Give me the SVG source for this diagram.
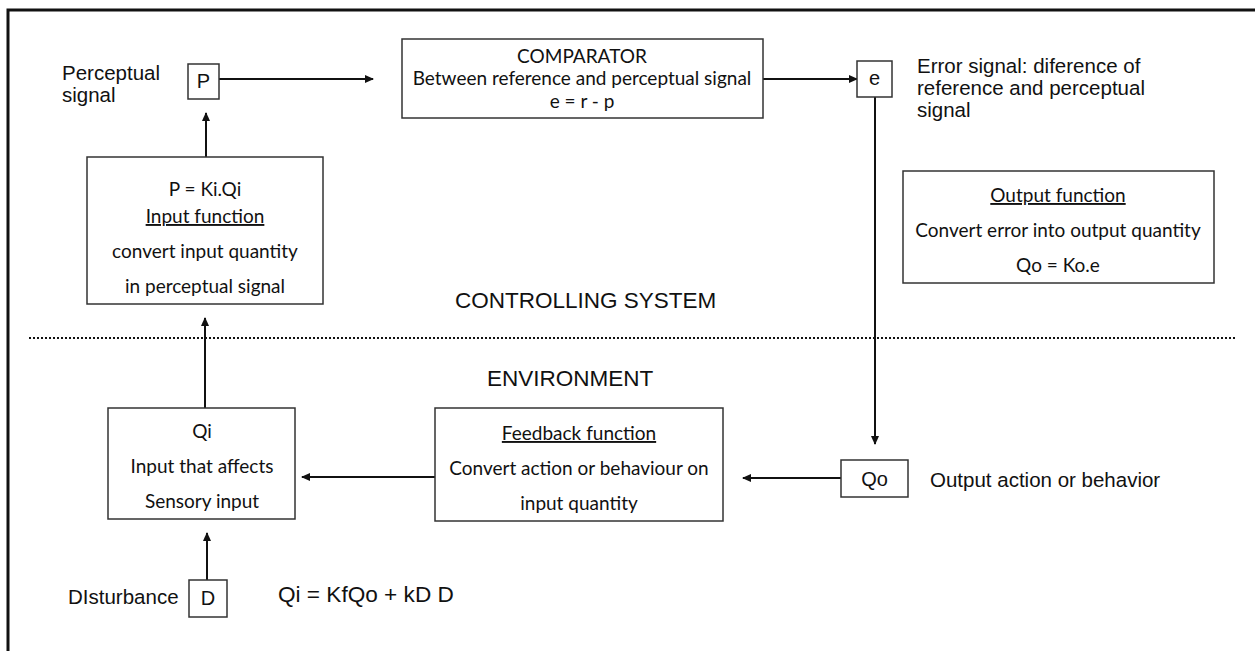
<svg xmlns="http://www.w3.org/2000/svg" width="1255" height="651" viewBox="0 0 1255 651">
<style>
.box{fill:#fff;stroke:#333;stroke-width:1.5}
.c{font-family:Lato,"Open Sans",sans-serif;font-size:19px;fill:#111;text-anchor:middle}
.a{font-family:"Liberation Sans",Arial,sans-serif;font-size:20.5px;fill:#111}
.am{font-family:"Liberation Sans",Arial,sans-serif;font-size:20px;fill:#111;text-anchor:middle}
.u{text-decoration:underline}
.ln{stroke:#111;stroke-width:2;fill:none}
</style>
<defs>
<marker id="ah" markerWidth="9" markerHeight="8" refX="8" refY="4" orient="auto" markerUnits="userSpaceOnUse">
<path d="M0,0 L9,4 L0,8 z" fill="#111"/>
</marker>
</defs>
<rect width="1255" height="651" fill="#fff"/>
<path d="M8,651 V10 H1255" fill="none" stroke="#111" stroke-width="3"/>
<line x1="29" y1="338" x2="1237" y2="338" stroke="#111" stroke-width="2" stroke-dasharray="2 2"/>
<text class="a" x="455" y="308" style="font-size:22.5px">CONTROLLING SYSTEM</text>
<text class="a" x="487" y="386" style="font-size:22.5px">ENVIRONMENT</text>

<g id="connectors">
<line class="ln" x1="219" y1="79" x2="373" y2="79" marker-end="url(#ah)"/>
<line class="ln" x1="763" y1="79" x2="857" y2="79" marker-end="url(#ah)"/>
<line class="ln" x1="875" y1="97" x2="875" y2="444" marker-end="url(#ah)"/>
<line class="ln" x1="841" y1="478" x2="743" y2="478" marker-end="url(#ah)"/>
<line class="ln" x1="435" y1="477" x2="302" y2="477" marker-end="url(#ah)"/>
<line class="ln" x1="207" y1="580" x2="207" y2="533" marker-end="url(#ah)"/>
<line class="ln" x1="205" y1="408" x2="205" y2="318" marker-end="url(#ah)"/>
<line class="ln" x1="206" y1="157" x2="206" y2="113" marker-end="url(#ah)"/>
</g>

<g id="P">
<rect class="box" x="188" y="64" width="31" height="35"/>
<text class="am" x="203.5" y="88">P</text>
<text class="a" x="62" y="80">Perceptual</text>
<text class="a" x="62" y="102">signal</text>
</g>

<g id="comparator">
<rect class="box" x="402" y="39" width="361" height="79"/>
<text class="c" x="582" y="63">COMPARATOR</text>
<text class="c" x="582" y="85">Between reference and perceptual signal</text>
<text class="c" x="582" y="108">e = r - p</text>
</g>

<g id="e">
<rect class="box" x="857" y="61" width="35" height="36"/>
<text class="am" x="874.5" y="85">e</text>
<text class="a" x="917" y="73">Error signal: diference of</text>
<text class="a" x="917" y="95">reference and perceptual</text>
<text class="a" x="917" y="117">signal</text>
</g>

<g id="input-function">
<rect class="box" x="87" y="157" width="236" height="147"/>
<text class="c" x="205" y="196">P = Ki.Qi</text>
<text class="c u" x="205" y="223">Input function</text>
<text class="c" x="205" y="258">convert input quantity</text>
<text class="c" x="205" y="293">in perceptual signal</text>
</g>

<g id="output-function">
<rect class="box" x="903" y="171" width="311" height="112"/>
<text class="c u" x="1058" y="202">Output function</text>
<text class="c" x="1058" y="237">Convert error into output quantity</text>
<text class="c" x="1058" y="272">Qo = Ko.e</text>
</g>

<g id="Qi">
<rect class="box" x="108" y="408" width="187" height="111"/>
<text class="c" x="202" y="438">Qi</text>
<text class="c" x="202" y="473">Input that affects</text>
<text class="c" x="202" y="508">Sensory input</text>
</g>

<g id="feedback-function">
<rect class="box" x="435" y="408" width="288" height="113"/>
<text class="c u" x="579" y="440">Feedback function</text>
<text class="c" x="579" y="475">Convert action or behaviour on</text>
<text class="c" x="579" y="510">input quantity</text>
</g>

<g id="Qo">
<rect class="box" x="841" y="460" width="67" height="37"/>
<text class="am" x="874.5" y="486">Qo</text>
<text class="a" x="930" y="487">Output action or behavior</text>
</g>

<g id="D">
<rect class="box" x="189" y="580" width="38" height="37"/>
<text class="am" x="208" y="605">D</text>
<text class="a" x="68" y="604">DIsturbance</text>
<text class="a" x="278" y="602" style="font-size:22.6px">Qi = KfQo + kD D</text>
</g>
</svg>
